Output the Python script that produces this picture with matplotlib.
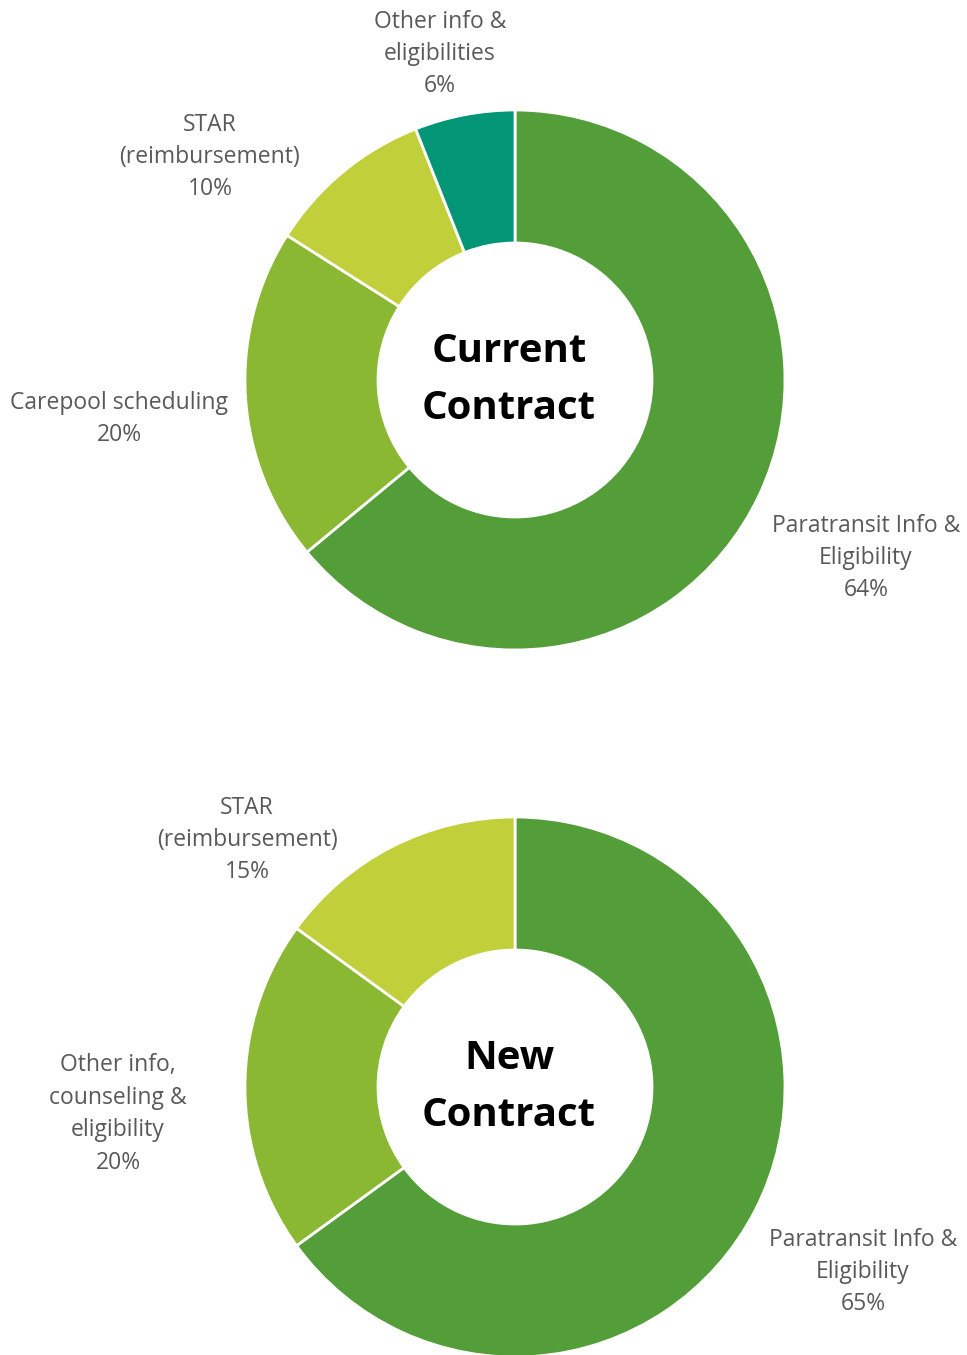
import matplotlib.pyplot as plt

plt.rcParams['font.family'] = ['Open Sans', 'DejaVu Sans']

# current contract
cur_labels = ["Paratransit Info &\nEligibility", "Carepool scheduling",
              "STAR\n(reimbursement)", "Other info &\neligibilities"]
cur_values = [64, 20, 10, 6]
cur_colors = ["#549E39", "#8AB833", "#C0CF3A", "#029676"]

# new contract
new_labels = ["Paratransit Info &\nEligibility", "Other info,\ncounseling &\neligibility",
              "STAR\n(reimbursement)"]
new_values = [65, 20, 15]
new_colors = ["#549E39", "#8AB833", "#C0CF3A"]

W, H = 967, 1355
fig = plt.figure(figsize=(W / 100, H / 100), dpi=100)
ax = fig.add_axes([0, 0, 1, 1])
ax.set_xlim(0, W)
ax.set_ylim(0, H)
ax.set_aspect("equal")
ax.axis("off")

R = 270
hole = 137

# label centres in pixel coords (x, y from top), layout only
cur_label_pos = [(866, 558), (119, 419), (210, 157), (440, 54)]
new_label_pos = [(863, 1272), (118, 1114), (247, 840)]


def donut(cx, cy, values, labels, colors, label_pos, title):
    total = float(sum(values))
    ax.pie(values, colors=colors, startangle=90, counterclock=False,
           center=(cx, H - cy), radius=R,
           wedgeprops=dict(width=R - hole, edgecolor="white", linewidth=2))
    for lab, v, (lx, ly) in zip(labels, values, label_pos):
        ax.text(lx, H - ly, "%s\n%d%%" % (lab, round(100 * v / total)),
                ha="center", va="center", fontsize=16.5, color="#595959",
                linespacing=1.47)
    ax.text(cx - 6, H - cy, title, ha="center", va="center", fontsize=29,
            fontweight="bold", color="black", linespacing=1.62)


donut(515, 380, cur_values, cur_labels, cur_colors, cur_label_pos, "Current\nContract")
donut(515, 1087, new_values, new_labels, new_colors, new_label_pos, "New\nContract")

ax.set_xlim(0, W)
ax.set_ylim(0, H)
fig.savefig("out.png", dpi=100, facecolor="white")
